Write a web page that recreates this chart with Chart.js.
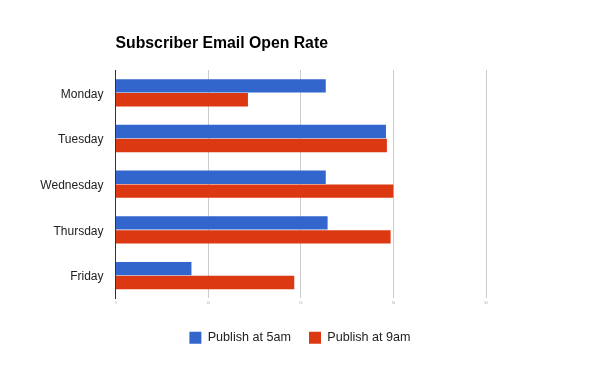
<!DOCTYPE html>
<html>
<head>
<meta charset="utf-8">
<script src="https://cdn.jsdelivr.net/npm/chart.js@4.4.0/dist/chart.umd.min.js"></script>
<style>
  html, body { margin: 0; padding: 0; background: #fff; }
  #wrap { width: 600px; height: 371px; position: relative; }
</style>
</head>
<body>
<div id="wrap"><canvas id="openRateChart" width="600" height="371"></canvas></div>
<script>
const days = ['Monday', 'Tuesday', 'Wednesday', 'Thursday', 'Friday'];
const publish5am = [22.7, 29.2, 22.7, 22.9, 8.2];
const publish9am = [14.3, 29.3, 30.0, 29.7, 19.3];
const xTicks = [0, 10, 20, 30, 40];

// draw the title left-aligned with the plot area, like the original
const titlePlugin = {
    id: 'leftTitle',
    afterDraw(chart) {
        const ctx = chart.ctx;
        ctx.save();
        ctx.font = 'bold 15.8px "Liberation Sans", Arial, sans-serif';
        ctx.fillStyle = '#000';
        ctx.textBaseline = 'middle';
        ctx.fillText('Subscriber Email Open Rate', chart.chartArea.left, 44);
        ctx.restore();
    }
};

const fontFamily = '"Liberation Sans", Arial, sans-serif';

const ctx = document.getElementById('openRateChart').getContext('2d');

const chart = new Chart(ctx, {
    type: 'bar',
    data: {
        labels: days,
        datasets: [{
            label: 'Publish at 5am',
            data: publish5am,
            backgroundColor: '#3366cc',
            barPercentage: 0.96,
            categoryPercentage: 0.61
        }, {
            label: 'Publish at 9am',
            data: publish9am,
            backgroundColor: '#dc3912',
            barPercentage: 0.96,
            categoryPercentage: 0.61
        }]
    },
    options: {
        indexAxis: 'y',
        responsive: false,
        animation: false,
        layout: {
            padding: { top: 70, right: 0, left: 0, bottom: 17 }
        },
        scales: {
            x: {
                min: 0,
                max: 40,
                afterBuildTicks: axis => {
                    axis.ticks = xTicks.map(v => ({ value: v }));
                },
                afterFit: axis => { axis.height = 15; },
                grid: {
                    color: '#cccccc',
                    drawTicks: false
                },
                border: { display: false },
                ticks: {
                    padding: 3,
                    color: '#aaaaaa',
                    font: { size: 3, family: 'Arial' }
                }
            },
            y: {
                afterFit: axis => { axis.width = 115.5; },
                grid: { display: false, drawTicks: false },
                border: { display: true, color: '#333333', width: 1 },
                ticks: {
                    padding: 12,
                    labelOffset: 1.5,
                    color: '#222222',
                    font: { size: 12, family: fontFamily }
                }
            },
            // empty right-hand axis that just reserves the blank space
            yRight: {
                type: 'category',
                position: 'right',
                afterFit: axis => { axis.width = 114; },
                grid: { display: false, drawTicks: false },
                border: { display: false },
                ticks: { display: false }
            }
        },
        plugins: {
            title: { display: false },
            tooltip: { enabled: false },
            legend: {
                position: 'bottom',
                labels: {
                    boxWidth: 12,
                    boxHeight: 12,
                    padding: 18,
                    color: '#222222',
                    font: { size: 12.6, family: fontFamily }
                }
            }
        }
    },
    plugins: [titlePlugin]
});
</script>
</body>
</html>
